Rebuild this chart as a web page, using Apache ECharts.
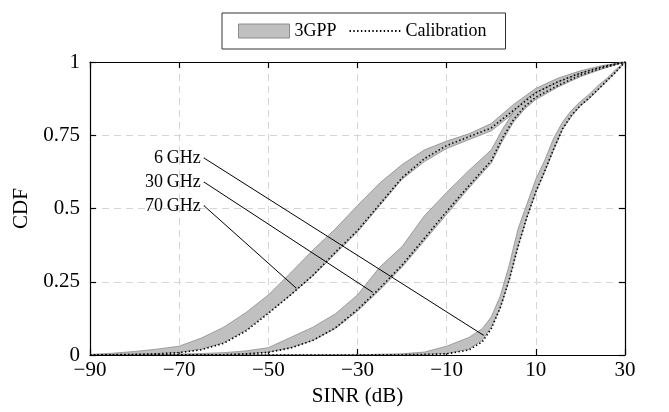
<!DOCTYPE html>
<html>
<head>
<meta charset="utf-8">
<script src="https://cdn.jsdelivr.net/npm/echarts@6/dist/echarts.min.js"></script>
<style>
  html, body { margin: 0; padding: 0; background: #fff; }
  #chart { width: 669px; height: 412px; }
</style>
</head>
<body>
<div id="chart"></div>
<script>
// SINR grid (dB) and CDF values
var xTicks = [-90, -70, -50, -30, -10, 10, 30];
var yTicks = [0, 0.25, 0.5, 0.75, 1];

// 70 GHz
var sinr70 = [-90, -85, -80, -75, -70, -65, -60, -55, -50, -45, -40, -35, -30, -25, -20, -15, -10, -5, 0, 5, 10, 15, 20, 25, 30];
var upper70 = [0.002, 0.006, 0.012, 0.02, 0.03, 0.058, 0.095, 0.145, 0.205, 0.28, 0.358, 0.43, 0.51, 0.587, 0.65, 0.7, 0.73, 0.755, 0.79, 0.855, 0.91, 0.945, 0.97, 0.988, 1];
var lower70 = [0, 0.001, 0.003, 0.005, 0.009, 0.02, 0.042, 0.085, 0.145, 0.205, 0.27, 0.345, 0.42, 0.51, 0.6, 0.66, 0.705, 0.735, 0.765, 0.825, 0.885, 0.925, 0.955, 0.98, 1];
var calib70 = [0, 0.001, 0.002, 0.004, 0.008, 0.018, 0.04, 0.082, 0.142, 0.205, 0.272, 0.35, 0.425, 0.515, 0.605, 0.67, 0.715, 0.745, 0.775, 0.835, 0.895, 0.933, 0.962, 0.984, 1];

// 30 GHz
var sinr30 = [-90, -80, -70, -65, -60, -55, -50, -45, -40, -35, -30, -25, -20, -15, -10, -5, 0, 2.5, 5, 7.5, 10, 15, 20, 25, 30];
var upper30 = [0, 0.001, 0.003, 0.005, 0.008, 0.014, 0.025, 0.06, 0.095, 0.14, 0.205, 0.3, 0.37, 0.475, 0.555, 0.63, 0.7, 0.77, 0.83, 0.87, 0.897, 0.932, 0.962, 0.985, 1];
var lower30 = [0, 0, 0.001, 0.001, 0.002, 0.004, 0.01, 0.025, 0.05, 0.09, 0.15, 0.222, 0.3, 0.39, 0.48, 0.57, 0.655, 0.73, 0.795, 0.84, 0.872, 0.915, 0.95, 0.977, 1];
var calib30 = [0, 0, 0.001, 0.001, 0.001, 0.004, 0.009, 0.024, 0.05, 0.092, 0.155, 0.228, 0.307, 0.398, 0.49, 0.578, 0.663, 0.74, 0.803, 0.848, 0.88, 0.92, 0.955, 0.98, 1];

// 6 GHz
var sinr6 = [-90, -60, -30, -20, -15, -10, -5, -2, 0, 2, 4, 6, 8, 10, 12, 14, 16, 18, 20, 22, 24, 26, 28, 30];
var upper6 = [0, 0, 0.001, 0.004, 0.01, 0.03, 0.06, 0.09, 0.13, 0.2, 0.305, 0.43, 0.515, 0.6, 0.665, 0.74, 0.795, 0.835, 0.865, 0.89, 0.92, 0.945, 0.975, 1];
var lower6 = [0, 0, 0, 0.001, 0.002, 0.005, 0.02, 0.05, 0.095, 0.16, 0.255, 0.37, 0.47, 0.555, 0.625, 0.7, 0.77, 0.815, 0.85, 0.875, 0.905, 0.935, 0.965, 1];
var calib6 = [0, 0, 0, 0.001, 0.002, 0.004, 0.017, 0.045, 0.09, 0.16, 0.255, 0.37, 0.47, 0.557, 0.628, 0.703, 0.772, 0.818, 0.852, 0.878, 0.907, 0.937, 0.967, 1];

// leader lines: label anchor -> point on band
var labels = ['6\u2009GHz', '30\u2009GHz', '70\u2009GHz'];
var leaderFrom = [[-64.4, 0.672], [-64.4, 0.59], [-64.4, 0.509]];
var leaderTo = [[-1.8, 0.068], [-26.7, 0.215], [-43.8, 0.229]];

var FONT = '"Liberation Serif", "DejaVu Serif", serif';

function pairs(xs, ys) {
  return xs.map(function (x, i) { return [x, ys[i]]; });
}

function bandSeries(xs, up, lo) {
  return {
    type: 'custom',
    name: '3GPP',
    clip: true,
    z: 2,
    itemStyle: { color: '#c0c0c0', borderColor: '#8c8c8c', borderWidth: 1 },
    data: [[xs[0], up[0]]],
    renderItem: function (params, api) {
      var pts = [];
      for (var i = 0; i < xs.length; i++) pts.push(api.coord([xs[i], up[i]]));
      for (var j = xs.length - 1; j >= 0; j--) pts.push(api.coord([xs[j], lo[j]]));
      return {
        type: 'polygon',
        shape: { points: pts },
        style: { fill: '#c0c0c0', stroke: '#8c8c8c', lineWidth: 0.8 }
      };
    }
  };
}

function calibSeries(xs, ys) {
  return {
    type: 'line',
    name: 'Calibration',
    symbol: 'none',
    z: 3,
    lineStyle: { color: '#000', width: 1.6, type: [1.4, 2.4] },
    itemStyle: { color: '#000' },
    data: pairs(xs, ys),
    silent: true
  };
}

var series = [
  bandSeries(sinr70, upper70, lower70),
  bandSeries(sinr30, upper30, lower30),
  bandSeries(sinr6, upper6, lower6),
  calibSeries(sinr70, calib70),
  calibSeries(sinr30, calib30),
  calibSeries(sinr6, calib6)
];

labels.forEach(function (txt, i) {
  series.push({
    type: 'line',
    name: 'leader' + i,
    z: 5,
    symbol: 'circle',
    symbolSize: 1,
    itemStyle: { color: '#000' },
    lineStyle: { color: '#000', width: 1 },
    data: [
      { value: leaderFrom[i], label: { show: true, position: 'left', distance: 3, formatter: txt,
        fontFamily: FONT, fontSize: 18, color: '#000' } },
      { value: leaderTo[i] }
    ],
    silent: true
  });
});

var axisLine = { show: true, onZero: false, lineStyle: { color: '#000', width: 1.2 } };
var tick = { show: true, inside: true, length: 6, lineStyle: { color: '#000', width: 1.2 } };
var grid = { show: true, lineStyle: { color: '#d6d6d6', width: 1, type: [7, 5] } };
var labelStyle = { color: '#000', fontFamily: FONT, fontSize: 21 };

var chart = echarts.init(document.getElementById('chart'));
chart.setOption({
  animation: false,
  backgroundColor: '#fff',
  legend: {
    left: 222,
    top: 13,
    padding: [9, 19, 9, 16],
    borderColor: '#333',
    borderWidth: 1,
    borderRadius: 0,
    itemWidth: 51,
    itemHeight: 14,
    itemGap: 12,
    selectedMode: false,
    textStyle: { color: '#000', fontFamily: FONT, fontSize: 18 },
    data: [
      { name: '3GPP', icon: 'rect', itemStyle: { color: '#c0c0c0', borderColor: '#8c8c8c', borderWidth: 1 } },
      { name: 'Calibration', itemStyle: { opacity: 0 } }
    ]
  },
  grid: { left: 90, right: 44, top: 62, bottom: 57 },
  xAxis: [{
    type: 'value', min: -90, max: 30, interval: 20, position: 'bottom',
    axisLine: axisLine, axisTick: tick, splitLine: grid,
    axisLabel: Object.assign({ margin: 5, formatter: function (v) { return String(v).replace('-', '\u2212'); } }, labelStyle),
    name: 'SINR (dB)', nameLocation: 'middle', nameGap: 30,
    nameTextStyle: labelStyle
  }, {
    type: 'value', min: -90, max: 30, interval: 20, position: 'top',
    axisLine: axisLine, axisTick: tick, splitLine: { show: false }, axisLabel: { show: false }
  }],
  yAxis: [{
    type: 'value', min: 0, max: 1, interval: 0.25,
    axisLine: axisLine, axisTick: tick, splitLine: grid,
    axisLabel: Object.assign({ margin: 10 }, labelStyle),
    name: 'CDF', nameLocation: 'middle', nameGap: 55,
    nameTextStyle: labelStyle
  }, {
    type: 'value', min: 0, max: 1, interval: 0.25, position: 'right',
    axisLine: axisLine, axisTick: tick, splitLine: { show: false }, axisLabel: { show: false }
  }],
  series: series
});
</script>
</body>
</html>
